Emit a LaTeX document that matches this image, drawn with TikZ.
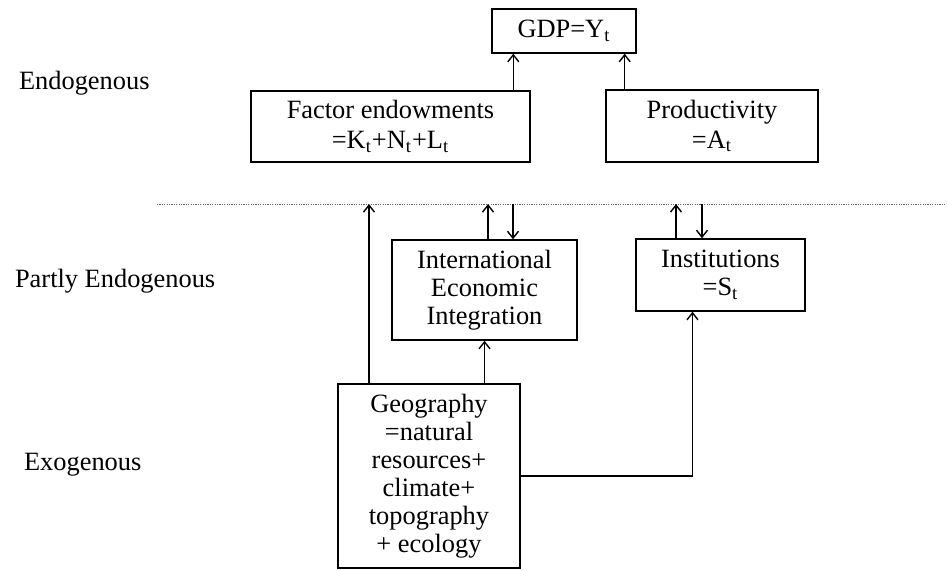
\documentclass[tikz,border=0pt]{standalone}
\usepackage{fontspec}
\setmainfont{Liberation Serif}
\usetikzlibrary{positioning, arrows.meta}

\begin{document}
\begin{tikzpicture}[x=0.5pt, y=-0.5pt, every node/.style={font=\fontsize{13.2}{14}\selectfont}, block/.style={draw, line width=0.7pt, align=center, inner sep=0pt}, link/.style={-{Straight Barb[length=3.5pt,width=5.5pt]}, line width=0.7pt}]
  \useasboundingbox (0,0) rectangle (947,570);
  \node[block, minimum width=72pt, minimum height=22pt] (gdp) at (564, 31) {GDP=Y\textsubscript{t}};
  \node[block, minimum width=139.5pt, minimum height=35.5pt] (fac) at (390.5, 126.5) {Factor endowments \\[1pt] =K\textsubscript{t}+N\textsubscript{t}+L\textsubscript{t}};
  \node[block, minimum width=106pt, minimum height=36pt] (prod) at (712, 126) {Productivity \\[1pt] =A\textsubscript{t}};
  \node[block, minimum width=92.5pt, minimum height=50pt] (iei) at (484.5, 290) {International \\ Economic \\ Integration};
  \node[block, minimum width=84.5pt, minimum height=36pt] (inst) at (720.5, 275) {Institutions \\ =S\textsubscript{t}};
  \node[block, minimum width=91pt, minimum height=92pt] (geo) at (429, 476) {Geography \\ =natural \\ resources+ \\ climate+ \\ topography \\ + ecology};
  \node[anchor=west] (endo) at (12, 83) {Endogenous};
  \node[anchor=west] (partly) at (8, 281) {Partly Endogenous};
  \node[anchor=west] (exo) at (17, 465) {Exogenous};
  % dotted border between the levels
  \coordinate (lineL) at (157, 204);
  \coordinate (lineR) at (947, 204);
  \draw[gray!80!black, line width=0.5pt, dash pattern=on 0.6pt off 0.6pt] (lineL) -- (lineR);
  \coordinate (c1) at (369, 204);
  \coordinate (c2) at (488, 204);
  \coordinate (c3) at (513, 204);
  \coordinate (c4) at (676, 204);
  \coordinate (c5) at (702, 204);
  \coordinate (g1) at ([xshift=11pt]gdp.south west);
  \coordinate (g2) at ([xshift=-6pt]gdp.south east);
  \coordinate (i1) at ([xshift=-14pt]inst.south);
  \draw[link] (fac.north -| g1) -- (g1);
  \draw[link] (prod.north -| g2) -- (g2);
  \draw[link] (geo.north -| c1) -- (c1);
  \draw[link] (iei.north -| c2) -- (c2);
  \draw[link] (c3) -- (iei.north -| c3);
  \draw[link] (inst.north -| c4) -- (c4);
  \draw[link] (c5) -- (inst.north -| c5);
  \draw[link] (geo.north -| iei.south) -- (iei.south);
  \draw[link] (geo.east) -| (i1);
\end{tikzpicture}
\end{document}
